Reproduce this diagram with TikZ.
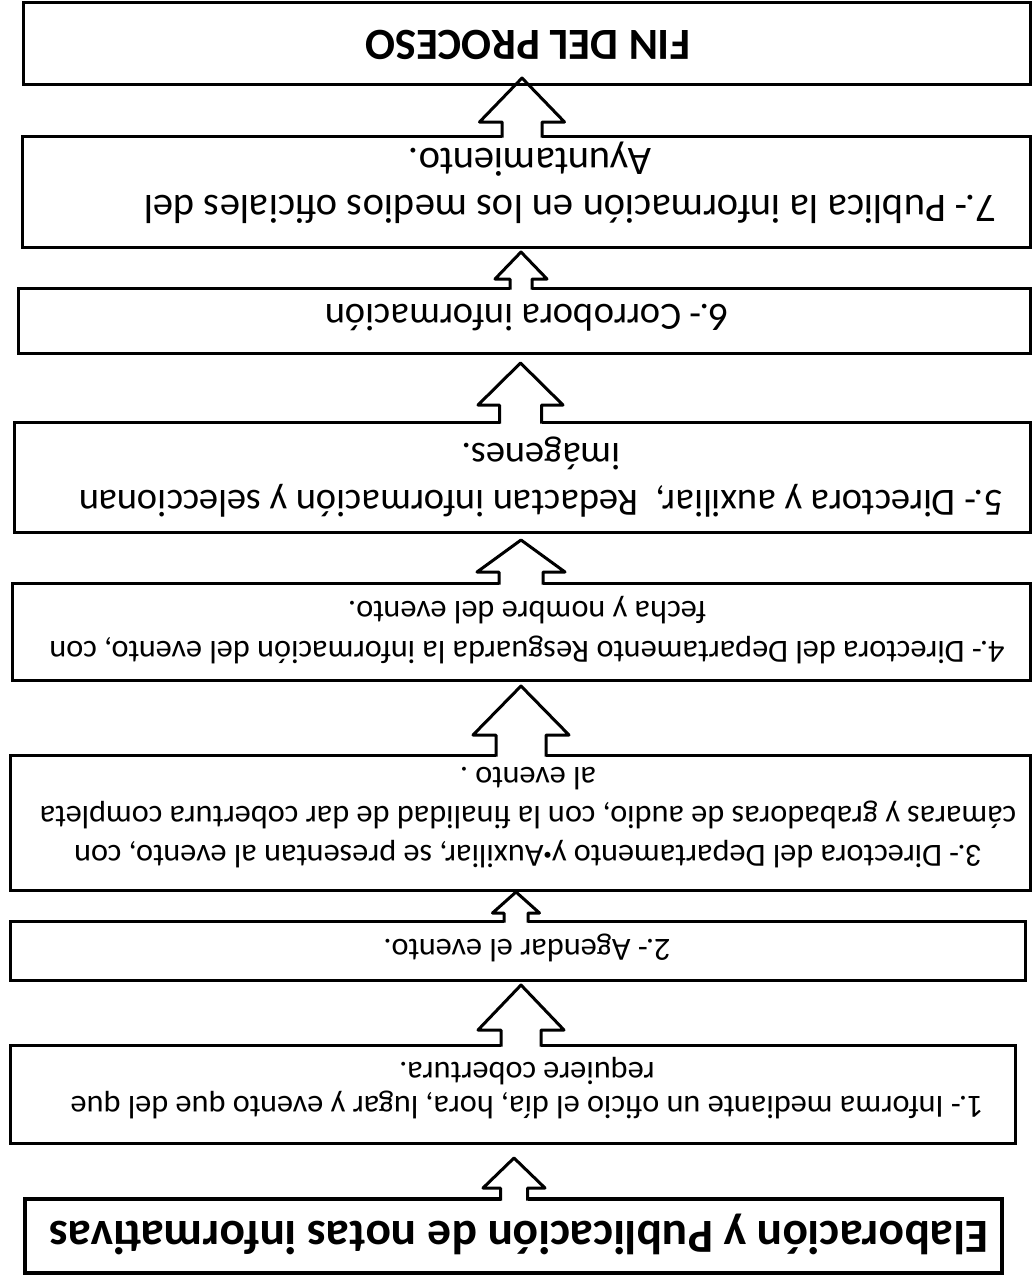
\documentclass[tikz,border=0pt]{standalone}
\usepackage{fontspec}
\setmainfont{Carlito}
\usetikzlibrary{calc}

\tikzset{
  box/.style={draw, line width=3pt, inner sep=0pt, outer sep=0pt},
  flip/.style={rotate=180, align=center, inner sep=0pt},
  small/.style={font=\fontsize{32.3}{#1}\selectfont},
  large/.style={font=\fontsize{#1}{47}\selectfont},
  arrowline/.style={line width=3pt, line join=round}
}

% small raised dot between two words
\newcommand\middot{{\fontsize{17}{17}\selectfont\raisebox{0.55ex}{•}}}

% Hollow block arrow pointing up (in the page) from box #1 to box #2.
% #3 x of the axis, #4 gap between tip and the upper box, #5 head depth,
% #6 head half width, #7 shaft half width.
\newcommand\blockarrow[7]{%
  \path (#3,0 |- #2.south) ++(0,#4) coordinate (tip);
  \path (#3,0 |- #1.north) coordinate (bot);
  \fill[white] ($(bot)+(-#7,-2)$) rectangle ($(bot)+(#7,3)$);
  \draw[arrowline]
    ($(bot)+(-#7,1.5)$) -- ($(tip)+(-#7,#5)$) -- ($(tip)+(-#6,#5)$)
    -- (tip) -- ($(tip)+(#6,#5)$) -- ($(tip)+(#7,#5)$) -- ($(bot)+(#7,1.5)$);
}

\begin{document}
\begin{tikzpicture}[x=1pt, y=-1pt]
\useasboundingbox[fill=white] (0,0) rectangle (1036,1283);

% boxes
\node[box, minimum width=1007, minimum height=82]  (fin)   at (526.5,43)   {};
\node[box, minimum width=1008, minimum height=111] (b7)    at (526,191.5)  {};
\node[box, minimum width=1012, minimum height=65]  (b6)    at (524,320.5)  {};
\node[box, minimum width=1016, minimum height=110] (b5)    at (522,477)    {};
\node[box, minimum width=1018, minimum height=97]  (b4)    at (521,631.5)  {};
\node[box, minimum width=1020, minimum height=135] (b3)    at (520,822.5)  {};
\node[box, minimum width=1015, minimum height=59]  (b2)    at (517.5,950.5){};
\node[box, minimum width=1005, minimum height=98]  (b1)    at (512.5,1094) {};
\node[box, line width=3.6pt, minimum width=977, minimum height=74] (title) at (513.5,1236) {};

% texts
\node[flip, font=\bfseries\fontsize{44.5}{50}\selectfont] (tfin) at (528,45) {FIN DEL PROCESO};
\node[flip, large=40.5] (t7) at (570,182.5)
  {7.- Publica la información en los medios oficiales del\\\hspace*{80pt}Ayuntamiento.};
\node[flip, large=38.5] (t6) at (527,318) {6.- Corrobora información};
\node[flip, large=38.5] (t5) at (541,477)
  {5.- Directora y auxiliar,\ \ Redactan información y seleccionan\\imágenes.};
\node[flip, small=40] (t4) at (527,630)
  {4.- Directora del Departamento Resguarda la información del evento, con\\fecha y nombre del evento.};
\node[flip, small=39] (t3) at (528,818)
  {3.- Directora del Departamento y\middot Auxiliar, se presentan al evento, con\\cámaras y grabadoras de audio, con la finalidad de dar cobertura completa\\al evento .};
\node[flip, small=34] (t2) at (527,948) {2.- Agendar el evento.};
\node[flip, small=34] (t1) at (527,1088)
  {1.- Informa mediante un oficio el día, hora, lugar y evento que del que\\requiere cobertura.};
\node[flip, font=\bfseries\fontsize{47.5}{52}\selectfont] (ttitle) at (519,1234)
  {Elaboración y Publicación de notas informativas};

% connectors
\blockarrow{title}{b1}{514}{15}{30}{31}{13.5}
\blockarrow{b1}{b2}{521}{5}{45}{43}{20}
\blockarrow{b2}{b3}{516}{2}{21}{23.5}{12}
\blockarrow{b3}{b4}{521}{6}{49}{48}{25}
\blockarrow{b4}{b5}{521}{8}{32}{44}{22}
\blockarrow{b5}{b6}{520.5}{10}{42}{42.5}{21}
\blockarrow{b6}{b7}{521}{5}{27}{26}{11}
\blockarrow{b7}{fin}{522}{-6}{44}{42.5}{20}
\end{tikzpicture}
\end{document}
